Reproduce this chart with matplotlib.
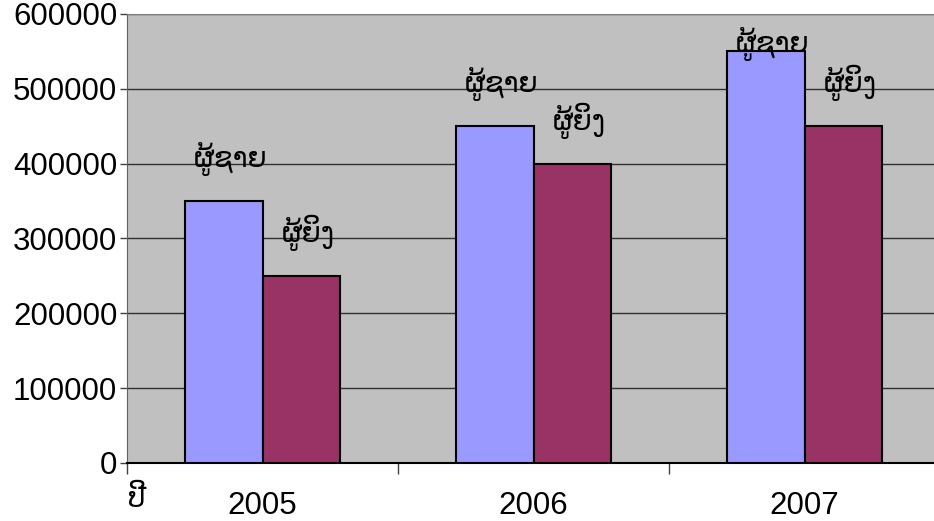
import numpy as np
import matplotlib.pyplot as plt

years = ['2005', '2006', '2007']
men = [350000, 450000, 550000]
women = [250000, 400000, 450000]
lab_men = 'ຜູ້ຊາຍ'
lab_women = 'ຜູ້ຍິງ'

fig = plt.figure(figsize=(9.34, 5.21), dpi=100)
ax = fig.add_axes([127 / 934, 1 - 463 / 521, 813 / 934, (463 - 14) / 521])
ax.set_facecolor('#C0C0C0')

x = np.arange(len(years))
w = 1 / 3.5  # ширина столбца (зазор 150%)
ax.bar(x - w / 2, men, w, color='#9999FF', edgecolor='black', linewidth=1.5, zorder=3)
ax.bar(x + w / 2, women, w, color='#993366', edgecolor='black', linewidth=1.5, zorder=3)

lao = ['DejaVu Sans']
gap = 45500     # базовая линия подписи над столбцом
ytop = 549000   # подпись не выше верхней границы
for i in range(len(years)):
    ax.text(x[i] - w / 2 + 0.026, min(men[i] + gap, ytop), lab_men,
            ha='center', va='baseline', fontsize=20, family=lao, zorder=4)
    ax.text(x[i] + w / 2 + 0.025, min(women[i] + gap, ytop), lab_women,
            ha='center', va='baseline', fontsize=20, family=lao, zorder=4)

ax.set_xlim(-0.5, 2.5)
ax.set_ylim(0, 600000)
ax.set_yticks(np.arange(0, 600001, 100000))
ax.set_yticklabels([str(v) for v in range(0, 600001, 100000)], fontsize=22.5,
                   family=['Liberation Sans', 'DejaVu Sans'])
ax.grid(axis='y', color='#303030', linewidth=1, zorder=1)
ax.tick_params(axis='y', length=5, width=1, color='#404040', pad=2)

# деления на границах категорий, подписи по центру
ax.set_xticks([-0.5, 0.5, 1.5, 2.5])
ax.set_xticklabels([])
ax.set_xticks(x, minor=True)
ax.set_xticklabels(years, minor=True, fontsize=22.5, family=['Liberation Sans', 'DejaVu Sans'])
ax.tick_params(axis='x', which='major', length=8, width=1, color='#404040')
ax.tick_params(axis='x', which='minor', length=0, pad=20)

ax.spines['top'].set_color('#808080')
ax.spines['right'].set_visible(False)
ax.spines['left'].set_color('#606060')
ax.spines['bottom'].set_color('black')
ax.spines['bottom'].set_linewidth(1.5)

fig.text(137 / 934, 1 - 499 / 521, 'ປີ', ha='center', va='center', fontsize=20, family=lao)

plt.savefig('out.png', dpi=100)
